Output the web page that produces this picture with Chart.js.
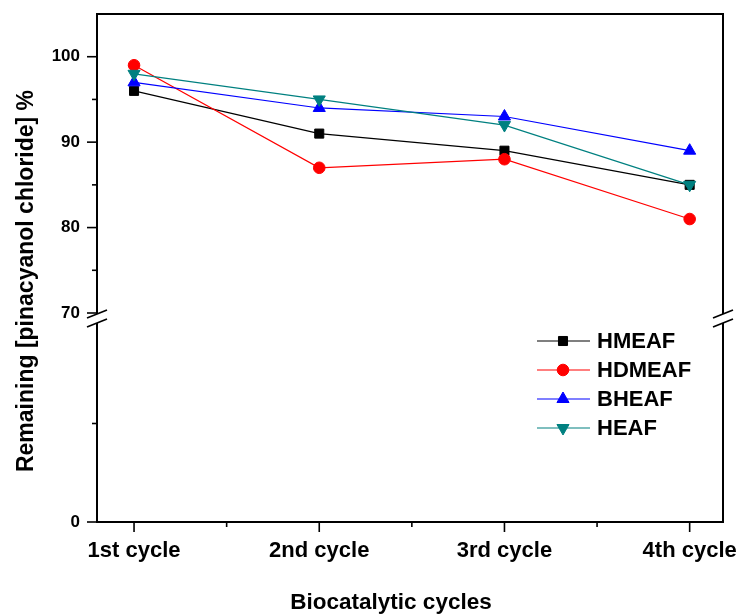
<!DOCTYPE html>
<html><head><meta charset="utf-8">
<script src="https://cdn.jsdelivr.net/npm/chart.js@4.4.1/dist/chart.umd.min.js"></script>
<style>html,body{margin:0;padding:0;background:#fff}#wrap{width:738px;height:615px}</style>
</head><body><div id="wrap"><canvas id="c" width="738" height="615"></canvas></div>
<script>
const categories = ['1st cycle', '2nd cycle', '3rd cycle', '4th cycle'];
const cycleX = [1, 2, 3, 4];
const seriesNames = ['HMEAF', 'HDMEAF', 'BHEAF', 'HEAF'];
const hmeaf = [96, 91, 89, 85];
const hdmeaf = [99, 87, 88, 81];
const bheaf = [97, 94, 93, 89];
const heaf = [98, 95, 92, 85];
const upperTicks = [70, 80, 90, 100];
const upperMinor = [75, 85, 95];
const lowerTicks = [0];
const lowerMinor = [35];
const xMinor = [1.5, 2.5, 3.5];
const xTitle = 'Biocatalytic cycles';
const yTitle = 'Remaining [pinacyanol chloride] %';

const FONT = '"Liberation Sans", Arial, sans-serif';
const colors = ['#000000', '#ff0000', '#0000ff', '#008080'];
const styles = [
  {pointStyle: 'rect', r: 6.4, rot: 0},
  {pointStyle: 'circle', r: 5.8, rot: 0},
  {pointStyle: 'triangle', r: 7, rot: 0},
  {pointStyle: 'triangle', r: 7, rot: 180}
];
const seriesValues = [hmeaf, hdmeaf, bheaf, heaf];

const datasets = seriesValues.map((vals, i) => ({
  label: seriesNames[i],
  data: cycleX.map((x, j) => ({x: x, y: vals[j]})),
  borderColor: colors[i],
  backgroundColor: colors[i],
  borderWidth: 1.2,
  pointStyle: styles[i].pointStyle,
  pointRadius: styles[i].r,
  pointHoverRadius: styles[i].r,
  pointRotation: styles[i].rot,
  pointBorderWidth: 1,
  pointBorderColor: colors[i],
  pointBackgroundColor: colors[i],
  tension: 0,
  xAxisID: 'x',
  yAxisID: 'yTop',
  order: 4 - i
}));

function tickFont(size) { return {family: FONT, weight: 'bold', size: size}; }

function drawMarker(ctx, style, x, y, r, rot, color) {
  ctx.save();
  ctx.fillStyle = color; ctx.strokeStyle = color; ctx.lineWidth = 1;
  if (Chart.helpers && Chart.helpers.drawPoint) {
    Chart.helpers.drawPoint(ctx, {pointStyle: style, radius: r, rotation: rot, borderWidth: 1}, x, y);
  } else {
    ctx.beginPath();
    if (style === 'circle') ctx.arc(x, y, r, 0, Math.PI * 2);
    else if (style === 'rect') { const s = r * Math.SQRT1_2; ctx.rect(x - s, y - s, 2 * s, 2 * s); }
    else {
      let a = rot * Math.PI / 180;
      ctx.moveTo(x + Math.sin(a) * r, y - Math.cos(a) * r);
      a += 2 * Math.PI / 3; ctx.lineTo(x + Math.sin(a) * r, y - Math.cos(a) * r);
      a += 2 * Math.PI / 3; ctx.lineTo(x + Math.sin(a) * r, y - Math.cos(a) * r);
      ctx.closePath();
    }
    ctx.fill(); ctx.stroke();
  }
  ctx.restore();
}

const decor = {
  id: 'decor',
  afterDraw(chart) {
    const {ctx, chartArea: ca, scales} = chart;
    const xs = scales.x, yt = scales.yTop, yb = scales.yBot;
    const top = ca.top;
    const bottom = yb.getPixelForValue(0);
    const brkU = yt.getPixelForValue(70);
    const brkL = yb.getPixelForValue(70);
    const L = ca.left, R = ca.right;
    ctx.save();
    ctx.strokeStyle = '#000';
    ctx.lineCap = 'butt';
    const line = (x1, y1, x2, y2, w) => { ctx.lineWidth = w; ctx.beginPath(); ctx.moveTo(x1, y1); ctx.lineTo(x2, y2); ctx.stroke(); };
    // frame
    line(L - 1, top, R + 1, top, 2);
    line(L - 1, bottom, R + 1, bottom, 2);
    for (const x of [L, R]) {
      line(x, top, x, brkU + 1, 2);
      line(x, brkL - 2, x, bottom, 2);
      line(x - 10, brkU + 5, x + 10, brkU - 3, 1.6);
      line(x - 10, brkL + 2, x + 10, brkL - 6, 1.6);
    }
    // y ticks
    upperTicks.forEach(v => { const p = yt.getPixelForValue(v); line(L - 10, p, L, p, 1.6); });
    upperMinor.forEach(v => { const p = yt.getPixelForValue(v); line(L - 5, p, L, p, 1.6); });
    lowerTicks.forEach(v => { const p = yb.getPixelForValue(v); line(L - 10, p, L, p, 1.6); });
    lowerMinor.forEach(v => { const p = yb.getPixelForValue(v); line(L - 5, p, L, p, 1.6); });
    // x ticks
    cycleX.forEach(v => { const p = xs.getPixelForValue(v); line(p, bottom, p, bottom + 10, 1.6); });
    xMinor.forEach(v => { const p = xs.getPixelForValue(v); line(p, bottom, p, bottom + 5, 1.6); });

    // titles
    ctx.fillStyle = '#000';
    ctx.font = 'bold 22.5px ' + FONT;
    ctx.textAlign = 'center';
    ctx.textBaseline = 'middle';
    ctx.fillText(xTitle, 391, 603);
    ctx.save();
    ctx.translate(27, 281);
    ctx.rotate(-Math.PI / 2);
    ctx.font = 'bold 23px ' + FONT;
    ctx.fillText(yTitle, 0, 0);
    ctx.restore();

    // legend
    const lx0 = 537, lx1 = 590, lmx = 563, ltx = 597, ly0 = 341, ldy = 29;
    ctx.font = 'bold 22px ' + FONT;
    ctx.textAlign = 'left';
    chart.data.datasets.forEach((ds, i) => {
      const y = ly0 + i * ldy;
      ctx.strokeStyle = ds.borderColor;
      line(lx0, y, lx1, y, ds.borderWidth);
      drawMarker(ctx, ds.pointStyle, lmx, y, ds.pointRadius, ds.pointRotation, ds.borderColor);
      ctx.fillStyle = '#000';
      ctx.fillText(ds.label, ltx, y + 1);
    });
    ctx.restore();
  }
};

const noPad = s => { s.paddingLeft = 0; s.paddingRight = 0; s.paddingTop = 0; s.paddingBottom = 0; };

new Chart(document.getElementById('c'), {
  type: 'line',
  data: {datasets: datasets},
  plugins: [decor],
  options: {
    responsive: false,
    animation: false,
    devicePixelRatio: 1,
    layout: {padding: {top: 14, right: 15, left: 0, bottom: 0}},
    plugins: {legend: {display: false}, tooltip: {enabled: false}},
    scales: {
      x: {
        type: 'linear', position: 'bottom', min: 0.8, max: 4.18,
        afterBuildTicks: s => { s.ticks = cycleX.map(v => ({value: v})); },
        afterFit: s => { s.height = 93; noPad(s); },
        ticks: {
          callback: v => { const k = cycleX.indexOf(v); return k >= 0 ? categories[k] : ''; },
          font: tickFont(22), color: '#000', padding: 16, maxRotation: 0, autoSkip: false
        },
        grid: {display: false, drawTicks: false, tickLength: 0},
        border: {display: false}
      },
      yTop: {
        type: 'linear', position: 'left', stack: 'y', stackWeight: 299, weight: 2,
        min: 70, max: 105,
        afterBuildTicks: s => { s.ticks = upperTicks.map(v => ({value: v})); },
        afterFit: s => { s.width = 97; noPad(s); },
        ticks: {font: tickFont(17), color: '#000', padding: 17},
        grid: {display: false, drawTicks: false, tickLength: 0},
        border: {display: false}
      },
      yGap: {
        type: 'linear', position: 'left', stack: 'y', stackWeight: 12, weight: 1,
        min: 0, max: 1,
        afterBuildTicks: s => { s.ticks = []; },
        afterFit: s => { s.width = 97; noPad(s); },
        ticks: {display: false},
        grid: {display: false, drawTicks: false, tickLength: 0},
        border: {display: false}
      },
      yBot: {
        type: 'linear', position: 'left', stack: 'y', stackWeight: 197, weight: 0,
        min: 0, max: 70,
        afterBuildTicks: s => { s.ticks = lowerTicks.map(v => ({value: v})); },
        afterFit: s => { s.width = 97; noPad(s); },
        ticks: {font: tickFont(17), color: '#000', padding: 17},
        grid: {display: false, drawTicks: false, tickLength: 0},
        border: {display: false}
      }
    }
  }
});
</script>
</body></html>
